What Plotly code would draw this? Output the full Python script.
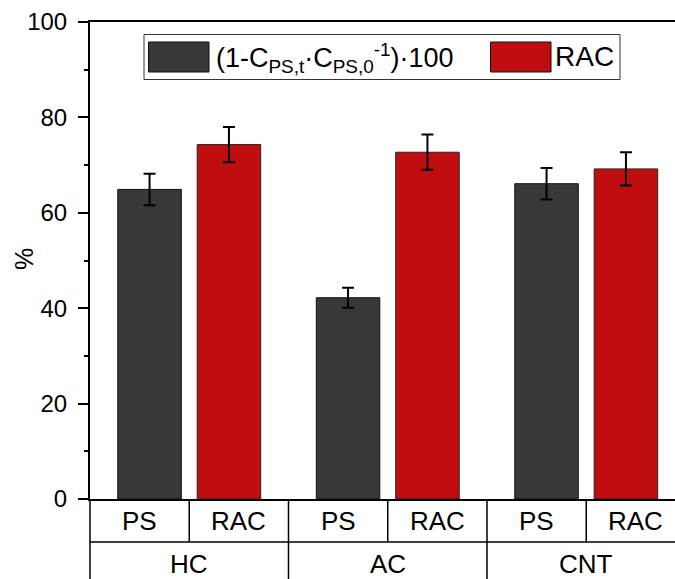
import plotly.graph_objects as go

# ---- data ----
groups = ["HC", "AC", "CNT"]
sub_labels = ["PS", "RAC"]
ps_values = [64.9, 42.2, 66.1]
ps_errors = [3.3, 2.1, 3.3]
rac_values = [74.3, 72.7, 69.2]
rac_errors = [3.7, 3.7, 3.5]
legend_ps = "(1-C<sub>PS,t</sub>·C<sub>PS,0</sub><sup>-1</sup>)·100"
legend_rac = "RAC"
y_title = "%"
y_ticks = [0, 20, 40, 60, 80, 100]

# ---- layout geometry ----
W, H = 675, 579
ML, MR, MT, MB = 90, 0, 22, 80
PW, PH = W - ML - MR, H - MT - MB
XMIN = -0.5
XMAX = XMIN + PW / 198.5

GRAY = "#383838"
RED = "#C00E10"
FONT = "Liberation Sans, Arial, sans-serif"


def px_x(px):
    return (px - ML) / PW


def px_y(py):
    return (H - MB - py) / PH


def dx(x):
    return (x - XMIN) / (XMAX - XMIN)


xs = list(range(len(groups)))

fig = go.Figure()
fig.add_trace(go.Bar(
    x=xs, y=ps_values, name="PS",
    marker=dict(color=GRAY, line=dict(color="#111111", width=1)),
    error_y=dict(type="data", array=ps_errors, color="black", thickness=2, width=6),
    showlegend=False,
))
fig.add_trace(go.Bar(
    x=xs, y=rac_values, name="RAC",
    marker=dict(color=RED, line=dict(color="#222222", width=1)),
    error_y=dict(type="data", array=rac_errors, color="black", thickness=2, width=6),
    showlegend=False,
))

shapes = []
annotations = []

# category box below axis
y_row = px_y(542)
y_bot = px_y(600)
line = dict(color="black", width=1.5)
shapes.append(dict(type="line", xref="paper", yref="paper", x0=0, x1=1.2,
                   y0=y_row, y1=y_row, line=line))
for i in range(len(groups)):
    xb = dx(i - 0.5)
    shapes.append(dict(type="line", xref="paper", yref="paper", x0=xb, x1=xb,
                       y0=0, y1=y_bot, line=line))
    xm = dx(i)
    shapes.append(dict(type="line", xref="paper", yref="paper", x0=xm, x1=xm,
                       y0=0, y1=y_row, line=line))
    for j, s in enumerate(sub_labels):
        annotations.append(dict(x=dx(i - 0.25 + 0.5 * j), y=px_y(521), xref="paper", yref="paper",
                                text=s, showarrow=False, xanchor="center", yanchor="middle",
                                font=dict(size=26, color="black", family=FONT)))
    annotations.append(dict(x=dx(i), y=px_y(564), xref="paper", yref="paper",
                            text=groups[i], showarrow=False, xanchor="center", yanchor="middle",
                            font=dict(size=26, color="black", family=FONT)))

# y-axis title
annotations.append(dict(x=px_x(24), y=px_y(259), xref="paper", yref="paper", text=y_title,
                        showarrow=False, textangle=-90, xanchor="center", yanchor="middle",
                        font=dict(size=25, color="black", family=FONT)))

# legend (drawn manually for large swatches)
shapes.append(dict(type="rect", xref="paper", yref="paper",
                   x0=px_x(144), x1=px_x(620), y0=px_y(79.5), y1=px_y(34.5),
                   line=dict(color="#333333", width=1), fillcolor="white", layer="above"))
shapes.append(dict(type="rect", xref="paper", yref="paper",
                   x0=px_x(148.5), x1=px_x(209), y0=px_y(72), y1=px_y(42),
                   line=dict(color="#111111", width=1), fillcolor=GRAY, layer="above"))
shapes.append(dict(type="rect", xref="paper", yref="paper",
                   x0=px_x(490.5), x1=px_x(551), y0=px_y(72), y1=px_y(42),
                   line=dict(color="#111111", width=1), fillcolor=RED, layer="above"))
annotations.append(dict(x=px_x(214), y=px_y(58), xref="paper", yref="paper", text=legend_ps,
                        showarrow=False, xanchor="left", yanchor="middle",
                        font=dict(size=27, color="black", family=FONT)))
annotations.append(dict(x=px_x(553), y=px_y(57), xref="paper", yref="paper", text=legend_rac,
                        showarrow=False, xanchor="left", yanchor="middle",
                        font=dict(size=28, color="black", family=FONT)))

fig.update_layout(
    width=W, height=H,
    margin=dict(l=ML, r=MR, t=MT, b=MB, pad=0, autoexpand=False),
    paper_bgcolor="white", plot_bgcolor="white",
    barmode="group", bargap=0.2, bargroupgap=0.2,
    font=dict(family=FONT, color="black", size=22),
    shapes=shapes, annotations=annotations,
    xaxis=dict(range=[XMIN, XMAX], showticklabels=False, ticks="", showgrid=False,
               zeroline=False, showline=True, linecolor="black", linewidth=2, mirror=True,
               automargin=False),
    yaxis=dict(range=[0, 100], tickvals=y_ticks, ticks="outside", ticklen=10, tickwidth=2,
               tickcolor="black", showgrid=False, zeroline=False, showline=True,
               linecolor="black", linewidth=2, tickfont=dict(size=24, family=FONT),
               ticklabelstandoff=6,
               minor=dict(dtick=10, ticks="outside", ticklen=4, tickwidth=2, tickcolor="black"),
               automargin=False),
)

fig.write_html("out.html", config={"displayModeBar": False},
               post_script="document.body.style.margin='0';document.body.style.overflow='hidden';")
